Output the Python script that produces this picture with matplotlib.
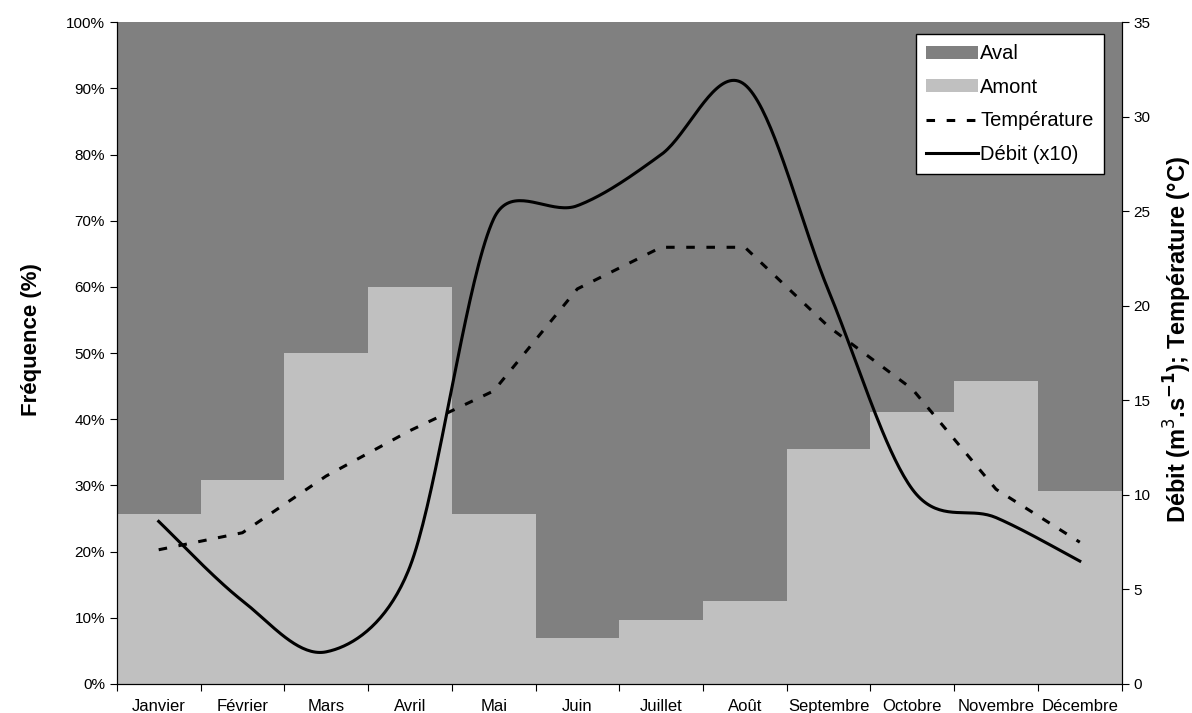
import matplotlib.pyplot as plt
import numpy as np
from matplotlib.patches import Patch
from matplotlib.lines import Line2D

plt.rcParams['font.family'] = ['Liberation Sans', 'DejaVu Sans']

# data
mois = ['Janvier', 'Février', 'Mars', 'Avril', 'Mai', 'Juin', 'Juillet',
        'Août', 'Septembre', 'Octobre', 'Novembre', 'Décembre']
amont = [25.7, 30.8, 50.0, 60.0, 25.7, 6.9, 9.6, 12.5, 35.5, 41.1, 45.8, 29.2]
aval = [100 - a for a in amont]
temperature = [7.1, 8.0, 11.0, 13.4, 15.5, 20.9, 23.1, 23.1, 18.9, 15.6, 10.3, 7.5]
debit = [8.6, 4.4, 1.7, 6.2, 24.6, 25.3, 28.0, 31.7, 20.8, 10.3, 8.8, 6.5]


def smooth(x, y, sx=83.75, sy=18.91, n=40, clamp=0.5):
    # Excel-like smoothed line: catmull-rom bezier, handles clamped to segment length
    p = np.column_stack([np.asarray(x) * sx, np.asarray(y) * sy]).astype(float)
    pts = np.vstack([p[0], p, p[-1]])
    t = np.linspace(0, 1, n)[:, None]
    out = []
    for i in range(1, len(pts) - 2):
        p0, p3 = pts[i], pts[i + 1]
        li = np.hypot(*(p3 - p0))
        h1 = (pts[i + 1] - pts[i - 1]) / 6
        h2 = (pts[i + 2] - pts[i]) / 6
        for h in (h1, h2):
            n_h = np.hypot(*h)
            if n_h > clamp * li:
                h *= clamp * li / n_h
        p1, p2 = p0 + h1, p3 - h2
        seg = (1 - t)**3 * p0 + 3 * (1 - t)**2 * t * p1 + 3 * (1 - t) * t**2 * p2 + t**3 * p3
        out.append(seg if i == 1 else seg[1:])
    out = np.vstack(out)
    return out[:, 0] / sx, out[:, 1] / sy


x = np.arange(len(mois))
dash = (0, (2.8, 3.8))

fig = plt.figure(figsize=(11.92, 7.13), dpi=100)
ax = fig.add_axes([0.098, 0.0407, 0.843, 0.928])

ax.bar(x, amont, width=1.0, color='#c0c0c0', linewidth=0)
ax.bar(x, aval, width=1.0, bottom=amont, color='#808080', linewidth=0)
ax.set_xlim(-0.5, len(mois) - 0.5)
ax.set_ylim(0, 100)
ax.set_yticks(np.arange(0, 101, 10))
ax.set_yticklabels([f'{v}%' for v in range(0, 101, 10)])
ax.set_xticks(np.arange(-0.5, len(mois), 1))
ax.set_xticklabels([])
ax.set_xticks(x, minor=True)
ax.set_xticklabels(mois, minor=True)
ax.tick_params(axis='x', which='minor', length=0, pad=11, labelsize=12)
ax.tick_params(axis='x', which='major', length=5, direction='out')
ax.tick_params(axis='y', labelsize=11, length=5)
ax.spines['top'].set_visible(False)
ax.set_ylabel('Fréquence (%)', fontsize=16, fontweight='bold')
ax.yaxis.set_label_coords(-0.074, 0.52)

ax2 = ax.twinx()
ax2.set_ylim(0, 35)
ax2.set_yticks(np.arange(0, 36, 5))
ax2.tick_params(axis='y', labelsize=11, length=5)
ax2.spines['top'].set_visible(False)
ax2.set_ylabel('Débit (m$^3$.s$^{\\mathbf{-1}}$); Température (°C)', fontsize=17,
               fontweight='bold')
ax2.yaxis.set_label_coords(1.04, 0.52)

ax2.plot(x, temperature, color='black', lw=2.2, linestyle=dash)
sx, sy = smooth(x, debit)
ax2.plot(sx, sy, color='black', lw=2.2)

handles = [Patch(facecolor='#808080', edgecolor='none', label='Aval'),
           Patch(facecolor='#c0c0c0', edgecolor='none', label='Amont'),
           Line2D([], [], color='black', lw=2.2, linestyle=dash, label='Température'),
           Line2D([], [], color='black', lw=2.2, label='Débit (x10)')]
leg = ax2.legend(handles=handles, loc='upper right', bbox_to_anchor=(0.982, 0.982),
                 borderaxespad=0, fontsize=14.5, frameon=True, fancybox=False,
                 framealpha=1, facecolor='white', handlelength=2.55, handleheight=0.6,
                 handletextpad=0.12, borderpad=0.5, labelspacing=0.72)
leg.get_frame().set_edgecolor('black')
leg.get_frame().set_linewidth(1.0)

plt.savefig('out.png', dpi=100)
